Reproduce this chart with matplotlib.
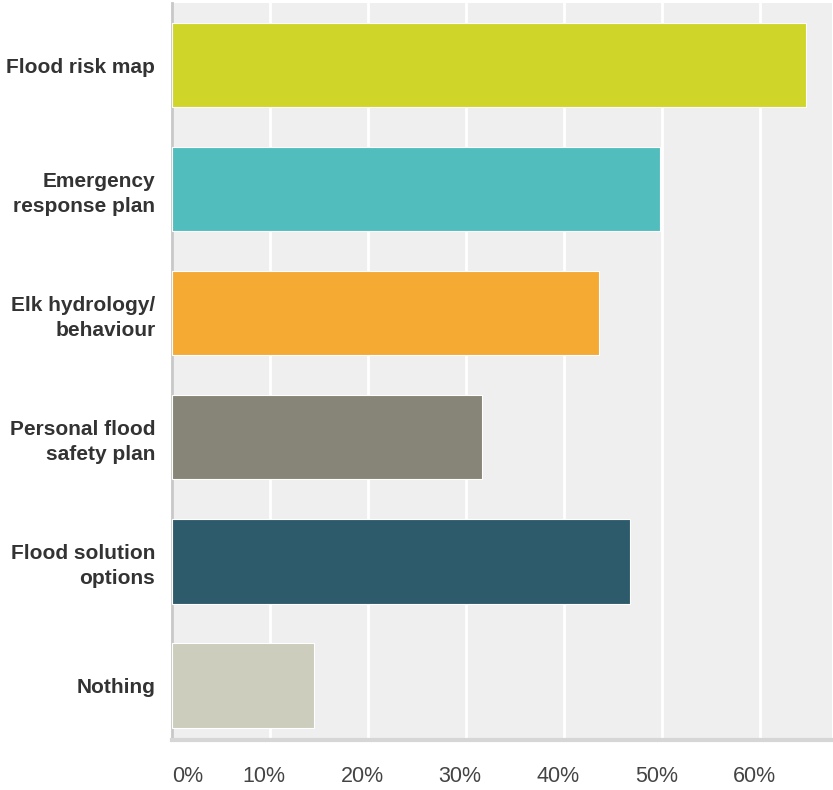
import numpy as np
import matplotlib.pyplot as plt
from matplotlib.transforms import ScaledTranslation

# survey answers, top to bottom
labels = ["Flood risk map", "Emergency\nresponse plan", "Elk hydrology/\nbehaviour",
          "Personal flood\nsafety plan", "Flood solution\noptions", "Nothing"]
values = [64.6, 49.8, 43.5, 31.6, 46.7, 14.5]
colors = ["#d0d52a", "#52bdbd", "#f5aa33", "#878577", "#2e5b6b", "#cdcdbd"]
ticks = [0, 10, 20, 30, 40, 50, 60]
tick_labels = ["0%", "10%", "20%", "30%", "40%", "50%", "60%"]

plt.rcParams['font.family'] = ['Liberation Sans', 'DejaVu Sans']

fig = plt.figure(figsize=(8.33, 7.9), dpi=100)
ax = fig.add_axes([172 / 833, 1 - 740 / 790, 660 / 833, 737 / 790])
ax.set_facecolor("#efefef")

y = np.arange(len(labels))
ax.barh(y, values, height=0.68, color=colors, edgecolor="#ffffff", linewidth=0.8,
        zorder=3)

ax.set_xlim(0, 67.3)
ax.set_ylim(5.44, -0.5)

ax.set_xticks(ticks)
ax.set_xticklabels(tick_labels, fontsize=15.5, color="#444444")
ax.xaxis.grid(True, color="white", linewidth=2, zorder=1)
ax.tick_params(axis="x", length=0, pad=19)
# nudge the percent labels a little to the left of their gridlines
shift = ScaledTranslation(-6 / 100, 0, fig.dpi_scale_trans)
xlabels = ax.get_xticklabels()
for t in xlabels[1:]:
    t.set_transform(t.get_transform() + shift)
xlabels[0].set_horizontalalignment("left")

ax.set_yticks(y)
ax.set_yticklabels(labels, fontsize=15, fontweight="bold", color="#333333",
                   linespacing=1.4)
ax.tick_params(axis="y", length=0, pad=12)

for side in ["top", "right"]:
    ax.spines[side].set_visible(False)
ax.spines["left"].set_color("#c8c8c8")
ax.spines["left"].set_linewidth(2)
ax.spines["bottom"].set_color("#d6d6d6")
ax.spines["bottom"].set_linewidth(3)

fig.savefig("out.png", dpi=100)
